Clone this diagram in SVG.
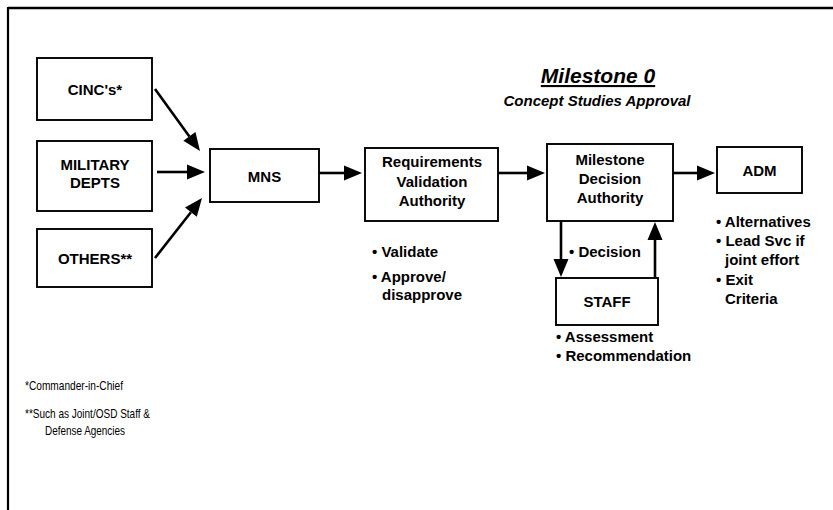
<svg xmlns="http://www.w3.org/2000/svg" width="833" height="510" viewBox="0 0 833 510">
<style>
.box{fill:#fff;stroke:#000;stroke-width:1.9}
.t{font-family:"Liberation Sans",Arial,Helvetica,sans-serif;font-weight:bold;font-size:15px;fill:#000}
.c{text-anchor:middle}
.n{font-family:"Liberation Sans",Arial,Helvetica,sans-serif;font-size:13px;fill:#000}
.e{stroke:#000;stroke-width:2.6;fill:none;marker-end:url(#ah)}
</style>
<defs>
<marker id="ah" markerUnits="userSpaceOnUse" markerWidth="19" markerHeight="16" refX="0" refY="8" orient="auto" overflow="visible">
<path d="M0,0.5 L18,8 L0,15.5 Z" fill="#000"/>
</marker>
</defs>
<rect width="833" height="510" fill="#fff"/>
<g id="frame">
<line x1="8" y1="8" x2="833" y2="8" stroke="#000" stroke-width="2.5"/>
<line x1="8" y1="7" x2="8" y2="510" stroke="#000" stroke-width="2.2"/>
</g>
<g id="title">
<text class="t c" x="598" y="83" font-style="italic" text-decoration="underline" style="font-size:21px">Milestone 0</text>
<text class="t c" x="597" y="106" font-style="italic">Concept Studies Approval</text>
</g>
<g id="cincs">
<rect class="box" x="37" y="58" width="115" height="62"/>
<text class="t c" x="95" y="95">CINC's*</text>
</g>
<g id="military">
<rect class="box" x="37" y="141" width="115" height="70"/>
<text class="t c" x="95" y="170">MILITARY</text>
<text class="t c" x="95" y="188">DEPTS</text>
</g>
<g id="others">
<rect class="box" x="37" y="229" width="115" height="58"/>
<text class="t c" x="95" y="264">OTHERS**</text>
</g>
<g id="mns">
<rect class="box" x="210" y="149" width="109" height="53"/>
<text class="t c" x="264.5" y="182">MNS</text>
</g>
<g id="rva">
<rect class="box" x="365" y="148" width="133" height="73"/>
<text class="t c" x="432" y="167">Requirements</text>
<text class="t c" x="432" y="187">Validation</text>
<text class="t c" x="432" y="206">Authority</text>
<text class="t" x="372" y="257">• Validate</text>
<text class="t" x="372" y="282">• Approve/</text>
<text class="t" x="382" y="300">disapprove</text>
</g>
<g id="mda">
<rect class="box" x="547" y="144" width="126" height="77"/>
<text class="t c" x="610" y="165">Milestone</text>
<text class="t c" x="610" y="184">Decision</text>
<text class="t c" x="610" y="203">Authority</text>
<text class="t" x="569" y="257">• Decision</text>
</g>
<g id="adm">
<rect class="box" x="717" y="147" width="85" height="46"/>
<text class="t c" x="759.5" y="176">ADM</text>
<text class="t" x="716" y="227">• Alternatives</text>
<text class="t" x="716" y="246">• Lead Svc if</text>
<text class="t" x="725" y="265">joint effort</text>
<text class="t" x="716" y="285">• Exit</text>
<text class="t" x="725" y="304">Criteria</text>
</g>
<g id="staff">
<rect class="box" x="556" y="278" width="102" height="47"/>
<text class="t c" x="607" y="307">STAFF</text>
<text class="t" x="556" y="342">• Assessment</text>
<text class="t" x="556" y="361">• Recommendation</text>
</g>
<g id="notes">
<text class="n" x="25" y="390" textLength="98" lengthAdjust="spacingAndGlyphs">*Commander-in-Chief</text>
<text class="n" x="25" y="418" textLength="125" lengthAdjust="spacingAndGlyphs">**Such as Joint/OSD Staff &amp;</text>
<text class="n" x="45" y="435" textLength="80" lengthAdjust="spacingAndGlyphs">Defense Agencies</text>
</g>
<g id="connectors">
<line class="e" x1="155" y1="89" x2="189.4" y2="136.4"/>
<line class="e" x1="157" y1="172" x2="187" y2="172"/>
<line class="e" x1="155" y1="258" x2="190.9" y2="212.2"/>
<line class="e" x1="319" y1="173" x2="344" y2="173"/>
<line class="e" x1="498" y1="173" x2="527" y2="173"/>
<line class="e" x1="673" y1="173" x2="697" y2="173"/>
<line class="e" x1="561" y1="221" x2="561" y2="259"/>
<line class="e" x1="655" y1="278" x2="655" y2="240"/>
</g>
</svg>
